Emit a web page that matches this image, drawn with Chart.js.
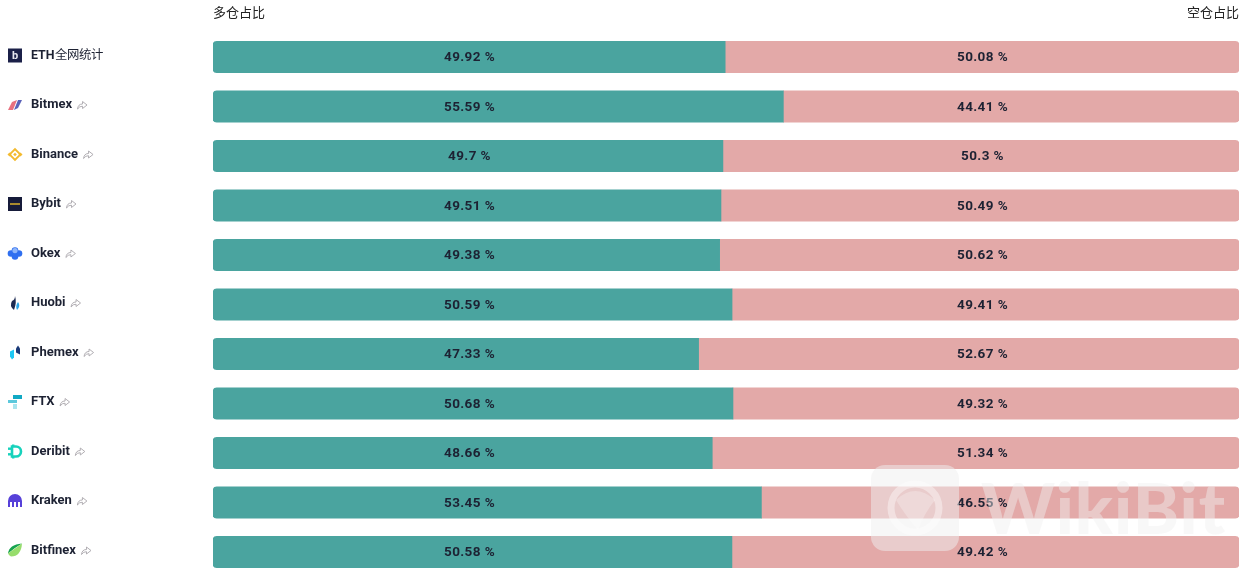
<!DOCTYPE html>
<html><head><meta charset="utf-8">
<style>
@font-face{font-family:"CjkLight";font-weight:700;src:local("Noto Sans CJK SC Regular"),local("Noto Sans CJK SC"),local("NotoSansCJKsc-Regular");unicode-range:U+2E80-9FFF,U+F900-FAFF,U+FF00-FFEF;}
html,body{margin:0;padding:0;background:#fff;}
canvas{display:block;}
</style>
<script src="https://cdn.jsdelivr.net/npm/chart.js@4/dist/chart.umd.min.js"></script>
</head><body><canvas id="c" width="1246" height="578"></canvas>
<script>
const exchanges=["ETH全网统计","Bitmex","Binance","Bybit","Okex","Huobi","Phemex","FTX","Deribit","Kraken","Bitfinex"];
const longShare=[49.92,55.59,49.7,49.51,49.38,50.59,47.33,50.68,48.66,53.45,50.58];
const shortShare=[50.08,44.41,50.3,50.49,50.62,49.41,52.67,49.32,51.34,46.55,49.42];
const seriesNames=["多仓占比","空仓占比"];
const labelAnchors=[25,75];
const longColor="#4aa49f",shortColor="#e3a9a8",inkColor="#1d2233";

function rr(ctx,x,y,w,h,r){ctx.beginPath();ctx.roundRect(x,y,w,h,r);}
const icons={
 0(c,x,y){c.fillStyle="#1b2048";c.fillRect(x-7,y-7,14,14);c.fillStyle="#e8e8f0";c.font="bold 11px Roboto";c.textAlign="center";c.textBaseline="middle";c.fillText("b",x,y+0.5);},
 1(c,x,y){c.fillStyle="#e8707f";c.beginPath();c.moveTo(x-7,y+5);c.lineTo(x-3,y-3);c.lineTo(x+2,y-5);c.lineTo(x-2,y+5);c.fill();c.fillStyle="#5a62b8";c.beginPath();c.moveTo(x+7,y-5);c.lineTo(x+3,y+3);c.lineTo(x-1,y+5);c.lineTo(x+3,y-5);c.fill();},
 2(c,x,y){c.fillStyle="#f3ba2f";[[-5.5,0],[5.5,0]].forEach(p=>{c.save();c.translate(x+p[0],y+p[1]);c.rotate(Math.PI/4);c.fillRect(-1.4,-1.4,2.8,2.8);c.restore();});c.save();c.translate(x,y);c.rotate(Math.PI/4);c.fillRect(-1.3,-1.3,2.6,2.6);c.strokeStyle="#f3ba2f";c.lineWidth=1.8;c.strokeRect(-3.8,-3.8,7.6,7.6);c.restore();},
 3(c,x,y){c.fillStyle="#161b3a";c.fillRect(x-7,y-7,14,14);c.fillStyle="#a88a2e";c.fillRect(x-5,y-1,10,2);},
 4(c,x,y){c.fillStyle="#2f6ff0";[[0,-3],[4,0],[0,3],[-4,0]].forEach(p=>{c.beginPath();c.arc(x+p[0],y+p[1],3.3,0,7);c.fill();});c.fillStyle="#8fb6fa";c.beginPath();c.arc(x,y-3,2.6,0,7);c.fill();},
 5(c,x,y){c.fillStyle="#1d2a52";c.beginPath();c.moveTo(x,y-7);c.quadraticCurveTo(x+2,y-1,x-1,y+7);c.quadraticCurveTo(x-6,y+3,x-3,y-2);c.quadraticCurveTo(x,y-3,x,y-7);c.fill();c.fillStyle="#2ea6e8";c.beginPath();c.moveTo(x+3,y-1);c.quadraticCurveTo(x+6,y+3,x+2,y+7);c.quadraticCurveTo(x,y+3,x+3,y-1);c.fill();},
 6(c,x,y){c.fillStyle="#1ec8f5";c.beginPath();c.moveTo(x-5,y-1);c.lineTo(x-1,y-3);c.lineTo(x-1,y+5);c.lineTo(x-3,y+7);c.lineTo(x-5,y+4);c.fill();c.fillStyle="#1a3a78";c.beginPath();c.moveTo(x+1,y-4);c.lineTo(x+3,y-7);c.lineTo(x+5,y-4);c.lineTo(x+5,y+2);c.lineTo(x+1,y);c.fill();},
 7(c,x,y){c.fillStyle="#11a9c4";c.fillRect(x-2,y-7,9,4);c.fillStyle="#5cc8dc";c.fillRect(x-7,y-2,9,3);c.fillStyle="#a9e4ee";c.fillRect(x-2,y+2,4,5);},
 8(c,x,y){c.strokeStyle="#17d2bc";c.lineWidth=2.6;c.beginPath();c.moveTo(x-3,y-5);c.lineTo(x+1,y-5);c.arc(x+1,y,5,-Math.PI/2,Math.PI/2);c.lineTo(x-3,y+5);c.closePath();c.stroke();c.fillStyle="#17d2bc";c.fillRect(x-7,y-4,4,2.4);c.fillRect(x-7,y+1.6,4,2.4);c.fillRect(x-3,y-7,2.4,2);c.fillRect(x-3,y+5,2.4,2);},
 9(c,x,y){c.fillStyle="#5741d9";c.beginPath();c.moveTo(x-7,y+6);c.lineTo(x-7,y);c.arc(x,y,7,Math.PI,0);c.lineTo(x+7,y+6);c.lineTo(x+5,y+6);c.lineTo(x+5,y+1);c.lineTo(x+3,y+1);c.lineTo(x+3,y+6);c.lineTo(x+1,y+6);c.lineTo(x+1,y+1);c.lineTo(x-1,y+1);c.lineTo(x-1,y+6);c.lineTo(x-3,y+6);c.lineTo(x-3,y+1);c.lineTo(x-5,y+1);c.lineTo(x-5,y+6);c.fill();},
 10(c,x,y){c.fillStyle="#16a34f";c.beginPath();c.moveTo(x+7,y-7);c.quadraticCurveTo(x-6,y-6,x-7,y+3);c.quadraticCurveTo(x,y-3,x+7,y-7);c.fill();c.fillStyle="#97dd6c";c.beginPath();c.moveTo(x+7,y-7);c.quadraticCurveTo(x+6,y+6,x-4,y+6);c.quadraticCurveTo(x-6,y+5,x-7,y+3);c.quadraticCurveTo(x,y-2,x+7,y-7);c.fill();}
};
function shareArrow(c,x,y){c.save();c.strokeStyle="#a9a6ab";c.lineWidth=.9;c.beginPath();
 c.moveTo(x,y+4);c.quadraticCurveTo(x+.5,y-1,x+5,y-1);c.lineTo(x+5,y-3.5);c.lineTo(x+9.5,y);c.lineTo(x+5,y+3.5);c.lineTo(x+5,y+1.2);c.quadraticCurveTo(x+2,y+1,x,y+4);c.stroke();c.restore();}

const decorations={id:"decorations",
 afterDatasetsDraw(chart){
  const c=chart.ctx;
  c.save();c.fillStyle=inkColor;c.font='bold 13.5px Roboto';c.letterSpacing="0.4px";c.textAlign="center";c.textBaseline="middle";
  chart.data.datasets.forEach((ds,di)=>{chart.getDatasetMeta(di).data.forEach((bar,i)=>{
    const p=bar.getCenterPoint();c.fillText(ds.data[i]+" %",chart.scales.x.getPixelForValue(labelAnchors[di]),p.y+1);});});
  c.restore();
  const y=chart.scales.y;
  exchanges.forEach((n,i)=>{
    const py=y.getPixelForValue(i)-1.5;
    c.save();icons[i](c,15,py);c.restore();
    if(i>0){c.save();c.font="bold 13px Roboto";const w=c.measureText(n).width;c.restore();shareArrow(c,31+w+5.5,py);}
  });
 },
 afterDraw(chart){
  const c=chart.ctx;c.save();
  c.fillStyle="rgba(240,240,240,.5)";
  rr(c,871,465,88,86,14);c.fill();
  c.strokeStyle="rgba(255,255,255,.4)";c.lineWidth=7;c.beginPath();c.arc(915,508,24,0,7);c.stroke();
  c.fillStyle="rgba(255,255,255,.25)";c.beginPath();c.moveTo(896,500);c.quadraticCurveTo(915,482,935,500);c.quadraticCurveTo(925,512,918,530);c.quadraticCurveTo(905,515,896,500);c.fill();
  c.font='900 70px Lato,Roboto';c.fillStyle="rgba(240,240,240,.45)";c.textAlign="left";c.textBaseline="alphabetic";
  c.letterSpacing="1px";c.fillText("WikiBit",981,534);
  c.restore();
 }
};

document.fonts.load('700 12px CjkLight','全网统计').catch(()=>{}).then(()=>document.fonts.load('700 13px Roboto')).then(()=>{
new Chart(document.getElementById("c"),{
 type:"bar",
 data:{labels:exchanges,datasets:[
  {label:seriesNames[0],data:longShare,backgroundColor:longColor,borderSkipped:false,borderRadius:{topLeft:4,bottomLeft:4,topRight:0,bottomRight:0},barThickness:31.5},
  {label:seriesNames[1],data:shortShare,backgroundColor:shortColor,borderSkipped:false,borderRadius:{topLeft:0,bottomLeft:0,topRight:4,bottomRight:4},barThickness:31.5}
 ]},
 options:{
  indexAxis:"y",responsive:false,animation:false,
  layout:{padding:{left:31,right:7,top:0,bottom:1.25}},
  plugins:{legend:{display:false},tooltip:{enabled:false}},
  scales:{
   x:{position:"top",stacked:true,min:0,max:100,
      grid:{display:false},border:{display:false},
      afterFit(s){s.height=32.25;s.paddingLeft=0;s.paddingRight=0;s.paddingTop=0;s.paddingBottom=0;},
      afterBuildTicks(s){s.ticks=[{value:0},{value:100}];},
      ticks:{align:"inner",maxRotation:0,padding:4,color:"#222",font:{family:"CjkLight,'Noto Sans CJK SC'",size:13,weight:"400"},
        callback(v){return v===0?seriesNames[0]:seriesNames[1];}}},
   y:{stacked:true,grid:{display:false},border:{display:false},
      afterFit(s){s.width=182;s.paddingLeft=0;s.paddingRight=0;s.paddingTop=0;s.paddingBottom=0;},
      ticks:{crossAlign:"far",padding:0,color:inkColor,autoSkip:false,
        font(ctx){return {family:"Roboto,CjkLight,'Noto Sans CJK SC'",size:ctx.index===0?12.4:13,weight:"bold",lineHeight:"3px"};},
        callback(v,i){return [exchanges[i],""];}}}
  }
 },
 plugins:[decorations]
});
});
</script></body></html>
